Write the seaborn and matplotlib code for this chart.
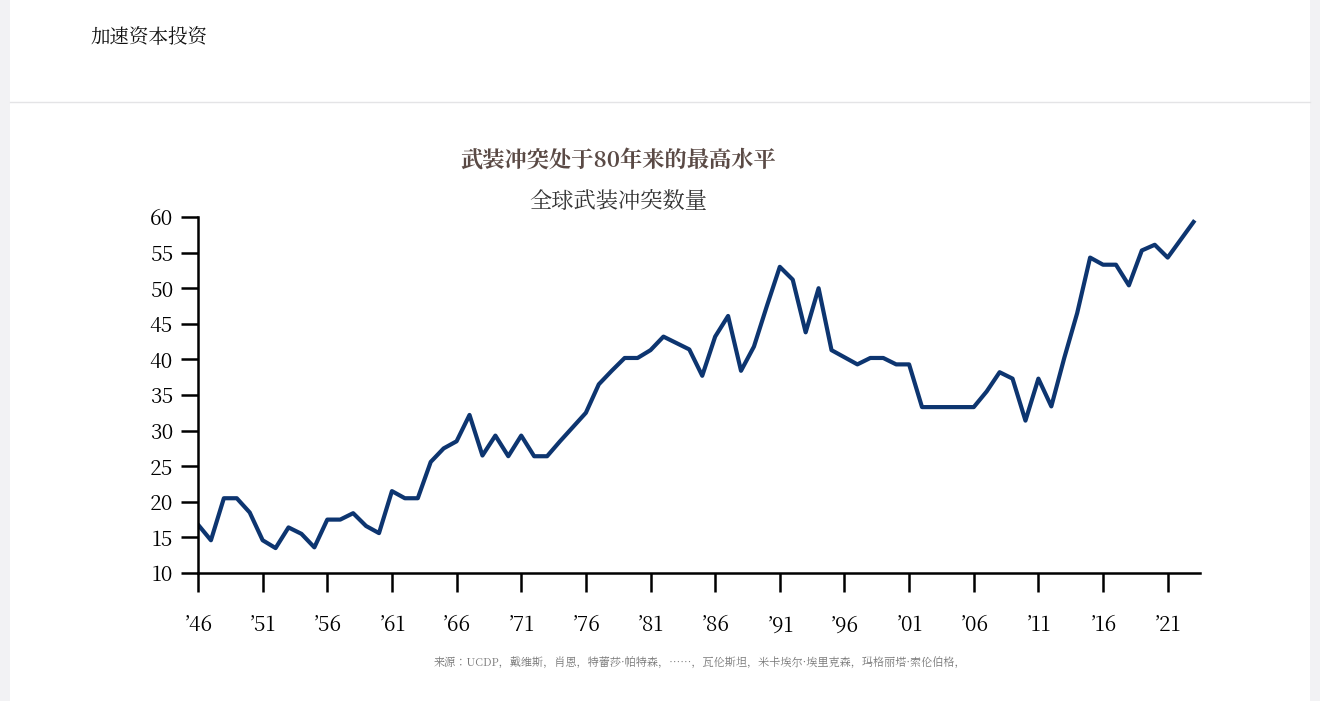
import matplotlib
matplotlib.use("Agg")
import matplotlib.pyplot as plt
from matplotlib import font_manager
import seaborn as sns
import pandas as pd

cjk = [f.name for f in font_manager.fontManager.ttflist if "CJK" in f.name]
pref = [n for n in cjk if "SC" in n] or cjk
plt.rcParams["font.family"] = "sans-serif"
plt.rcParams["font.sans-serif"] = (pref[:1] if pref else []) + ["DejaVu Sans"]

years = list(range(1946, 2024))
conflicts = [16.8, 14.6, 20.5, 20.5, 18.5, 14.6, 13.5, 16.4, 15.5, 13.6,
             17.5, 17.5, 18.4, 16.6, 15.6, 21.5, 20.5, 20.5, 25.6, 27.5,
             28.5, 32.2, 26.5, 29.3, 26.4, 29.3, 26.4, 26.4, 28.5, 30.5,
             32.5, 36.5, 38.4, 40.2, 40.2, 41.3, 43.2, 42.3, 41.4, 37.7,
             43.2, 46.1, 38.4, 41.8, 47.5, 53.0, 51.2, 43.8, 50.0, 41.3,
             40.3, 39.3, 40.2, 40.2, 39.3, 39.3, 33.3, 33.3, 33.3, 33.3,
             33.3, 35.5, 38.2, 37.3, 31.4, 37.3, 33.4, 40.2, 46.5, 54.3,
             53.3, 53.3, 50.4, 55.3, 56.1, 54.3, 56.8, 59.3]
tick_years = [1946, 1951, 1956, 1961, 1966, 1971, 1976, 1981, 1986, 1991, 1996, 2001, 2006, 2011, 2016, 2021]
tick_labels = ["’" + str(y)[2:] for y in tick_years]
y_ticks = [10, 15, 20, 25, 30, 35, 40, 45, 50, 55, 60]

df = pd.DataFrame({"year": years, "n": conflicts})

fig = plt.figure(figsize=(13.2, 7.01), dpi=100)
fig.patch.set_facecolor("#f2f2f4")
fig.add_artist(plt.Rectangle((10/1320, 0), 1300/1320, 1, transform=fig.transFigure,
                             facecolor="white", edgecolor="none", zorder=0))
fig.add_artist(plt.Line2D([10/1320, 1310/1320], [1-102/701]*2, transform=fig.transFigure,
                          color="#e4e4e6", lw=1))
fig.text(90/1320, 1-39/701, "加速资本投资", fontsize=14, va="center", ha="left", color="#111")

ax = fig.add_axes([198/1320, 1-573/701, (1200-198)/1320, (573-217)/701])
sns.lineplot(data=df, x="year", y="n", ax=ax, color="#0d3570", linewidth=3)
ax.set_xlim(1946, 2023.5)
ax.set_ylim(10, 60)
ax.set_yticks(y_ticks)
ax.set_xticks(tick_years)
ax.set_xticklabels(tick_labels)
ax.set_xlabel("")
ax.set_ylabel("")
for s in ["top", "right"]:
    ax.spines[s].set_visible(False)
ax.spines["left"].set_linewidth(1.8)
ax.spines["bottom"].set_linewidth(1.8)
ax.tick_params(axis="y", length=12, width=1.8, labelsize=15, pad=6, direction="out")
ax.tick_params(axis="x", length=14, width=1.8, labelsize=15, pad=16, direction="out")
ax.set_facecolor("none")

fig.text(618/1320, 1-161/701, "武装冲突处于80年来的最高水平", fontsize=16, fontweight="bold",
         ha="center", va="center", color="#5a4a45")
fig.text(618/1320, 1-202/701, "全球武装冲突数量", fontsize=16, ha="center", va="center", color="#333")
fig.text(700/1320, 1-664/701,
         "来源：UCDP，戴维斯，肖恩，特蕾莎·帕特森，……，瓦伦斯坦，米卡埃尔·埃里克森，玛格丽塔·索伦伯格，",
         fontsize=8, ha="center", va="center", color="#777")

fig.savefig("out.png", dpi=100)
